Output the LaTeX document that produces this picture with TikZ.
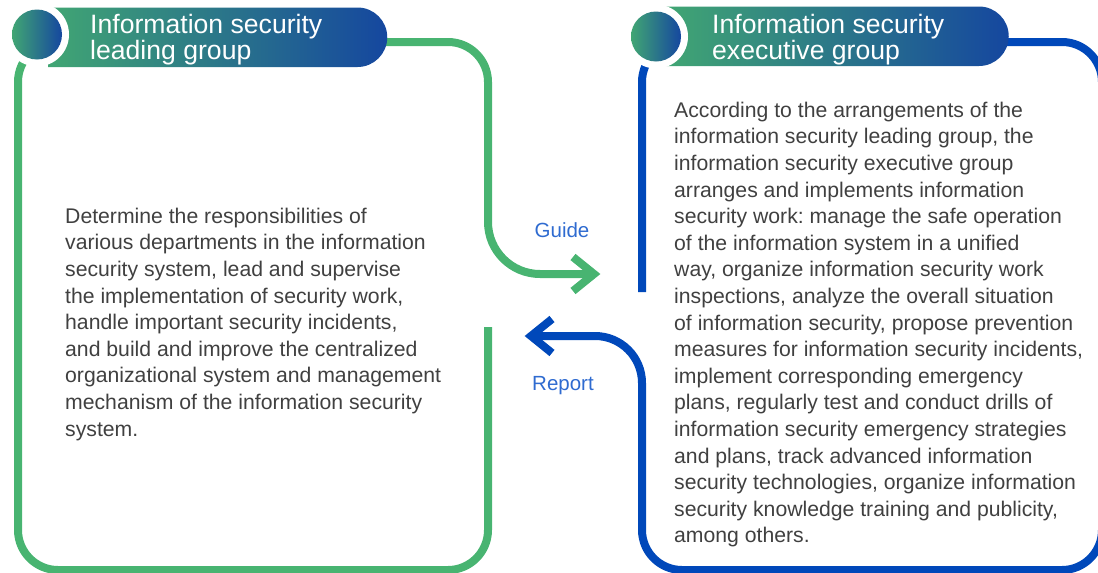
\documentclass[tikz,border=0pt]{standalone}
\usepackage{fontspec}
\setmainfont{Liberation Sans}
\frenchspacing
\definecolor{gframe}{HTML}{48B471}
\definecolor{bframe}{HTML}{0048BA}
\definecolor{gradA}{HTML}{41A673}
\definecolor{gradB}{HTML}{15479F}
\definecolor{txtgray}{HTML}{404040}
\definecolor{lblblue}{HTML}{2F6BD0}
\tikzset{
  gline/.style={draw=gframe, line width=8pt, line join=miter},
  bline/.style={draw=bframe, line width=8pt, line join=miter},
  headtxt/.style={anchor=north west, inner sep=0pt, align=left, text=white,
    font=\fontsize{26.6}{26}\selectfont},
  bodytxt/.style={anchor=north west, inner sep=0pt, align=left, text=txtgray,
    font=\fontsize{21.2}{26.6}\selectfont},
  lbl/.style={anchor=base, inner sep=0pt, text=lblblue, font=\fontsize{20.5}{24}\selectfont},
  pill/.style={left color=gradA, right color=gradB},
}
\begin{document}
\begin{tikzpicture}[x=1pt, y=-1pt]
\useasboundingbox (0,0) rectangle (1098,573);
\clip (0,0) rectangle (1098,573);

% ---- green frame (leading group) ----
\draw[gline] (380,42) -- (448,42) arc[start angle=-90, end angle=0, radius=40]
  -- (488,222) arc[start angle=180, end angle=90, radius=52] -- (592,274);
\draw[gline] (573,257) -- (594,274) -- (573,291);
\draw[gline] (488,327) -- (488,530) arc[start angle=0, end angle=90, radius=40]
  -- (58,570) arc[start angle=90, end angle=180, radius=40]
  -- (18,82) arc[start angle=180, end angle=270, radius=40] -- (380,42);

% ---- blue frame (executive group) ----
\draw[bline] (642,292) -- (642,82) arc[start angle=180, end angle=270, radius=40] -- (720,42);
\draw[bline] (532,336) -- (595,336) arc[start angle=-90, end angle=0, radius=47]
  -- (642,530) arc[start angle=180, end angle=90, radius=40]
  -- (1062,570) arc[start angle=90, end angle=0, radius=40]
  -- (1102,82) arc[start angle=0, end angle=-90, radius=40] -- (990,42);
\draw[bline] (552,319) -- (531,336) -- (552,353);

% ---- headers ----
\shade[pill] (48,7.5) -- (357.5,7.5) arc[start angle=-90, end angle=90, radius=29.75] -- (48,67) -- cycle;
\fill[white] (37,34.5) circle[radius=32];
\shade[pill] (37,34.5) circle[radius=25];

\shade[pill] (666,6.5) -- (979,6.5) arc[start angle=-90, end angle=90, radius=29.75] -- (666,66) -- cycle;
\fill[white] (656,36.5) circle[radius=32];
\shade[pill] (656,36.5) circle[radius=25];

\node[headtxt] (h1) at (90,11) {\rule{0pt}{22pt}Information security\\leading group};
\node[headtxt] (h2) at (712,11) {\rule{0pt}{22pt}Information security\\executive group};

% ---- body texts ----
\node[bodytxt] (t1) at (65,205) {\rule{0pt}{18pt}Determine the responsibilities of\\
various departments in the information\\
security system, lead and supervise\\
the implementation of security work,\\
handle important security incidents,\\
and build and improve the centralized\\
organizational system and management\\
mechanism of the information security\\
system.};

\node[bodytxt] (t2) at (674,99) {\rule{0pt}{18pt}According to the arrangements of the\\
information security leading group, the\\
information security executive group\\
arranges and implements information\\
security work: manage the safe operation\\
of the information system in a unified\\
way, organize information security work\\
inspections, analyze the overall situation\\
of information security, propose prevention\\
measures for information security incidents,\\
implement corresponding emergency\\
plans, regularly test and conduct drills of\\
information security emergency strategies\\
and plans, track advanced information\\
security technologies, organize information\\
security knowledge training and publicity,\\
among others.};

% ---- labels ----
\node[lbl] (guide) at (562,237) {Guide};
\node[lbl] (report) at (563,390) {Report};
\end{tikzpicture}
\end{document}
